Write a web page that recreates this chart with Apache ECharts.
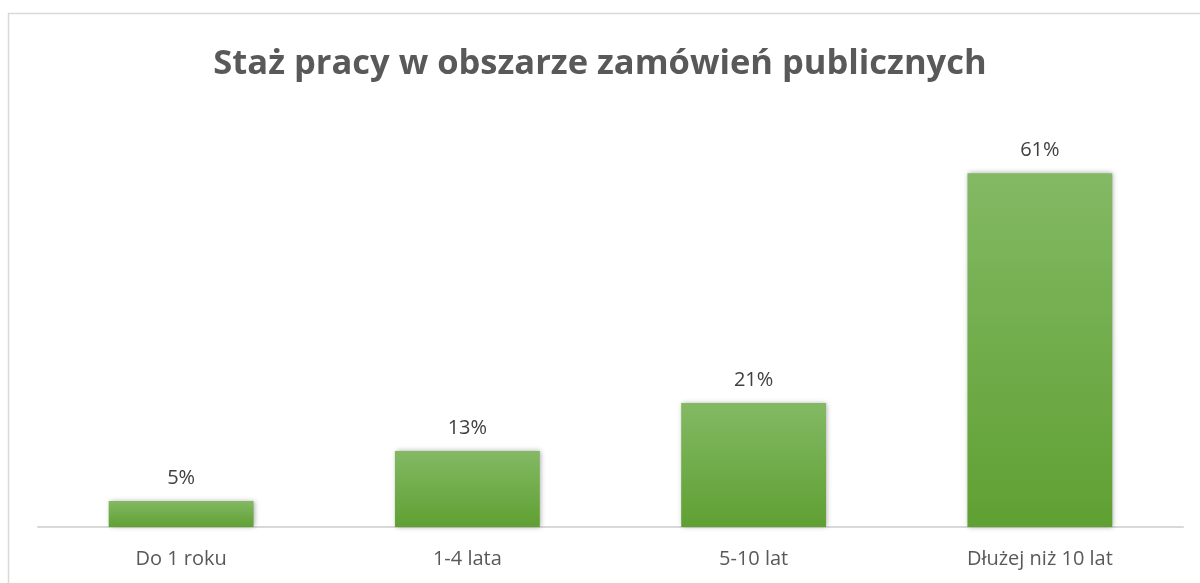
<!DOCTYPE html>
<html>
<head>
<meta charset="utf-8">
<script src="https://cdn.jsdelivr.net/npm/echarts@6/dist/echarts.min.js"></script>
<style>
html,body{margin:0;padding:0;background:#fff;}
#main{width:1200px;height:583px;}
</style>
</head>
<body>
<div id="main"></div>
<script>
const categories = ['Do 1 roku', '1-4 lata', '5-10 lat', 'Dłużej niż 10 lat'];
const values = [4.5, 13.1, 21.4, 61.0];
const titleText = 'Staż pracy w obszarze zamówień publicznych';

const chart = echarts.init(document.getElementById('main'));
chart.setOption({
  animation: false,
  backgroundColor: '#ffffff',
  title: {
    text: titleText,
    left: 'center',
    top: 42,
    padding: [5, 0, 5, 7],
    textStyle: { fontFamily: 'Open Sans', fontWeight: 'bold', fontSize: 34.5, color: '#595959' }
  },
  graphic: [{
    type: 'rect',
    shape: { x: 8.5, y: 13.5, width: 1250, height: 650 },
    style: { fill: 'none', stroke: '#d9d9d9', lineWidth: 1.5 },
    silent: true
  }],
  grid: { left: 38, right: 17, top: 121, bottom: 56 },
  xAxis: {
    type: 'category',
    data: categories,
    axisLine: { lineStyle: { color: '#d9d9d9', width: 2 } },
    axisTick: { show: false },
    axisLabel: { color: '#595959', fontFamily: 'Open Sans', fontSize: 20, margin: 22 }
  },
  yAxis: {
    type: 'value',
    min: 0,
    max: 70,
    show: false,
    splitLine: { show: false }
  },
  series: [{
    type: 'bar',
    data: values,
    barWidth: '50.6%',
    itemStyle: {
      color: new echarts.graphic.LinearGradient(0, 0, 0, 1, [
        { offset: 0, color: '#83b964' },
        { offset: 1, color: '#5fa032' }
      ]),
      shadowColor: 'rgba(0,0,0,0.35)',
      shadowBlur: 5,
      shadowOffsetX: 1,
      shadowOffsetY: 0
    },
    label: {
      show: true,
      position: 'top',
      distance: 13,
      color: '#404040',
      fontFamily: 'Open Sans',
      fontSize: 20,
      formatter: p => Math.round(p.value) + '%'
    }
  }]
});
</script>
</body>
</html>
